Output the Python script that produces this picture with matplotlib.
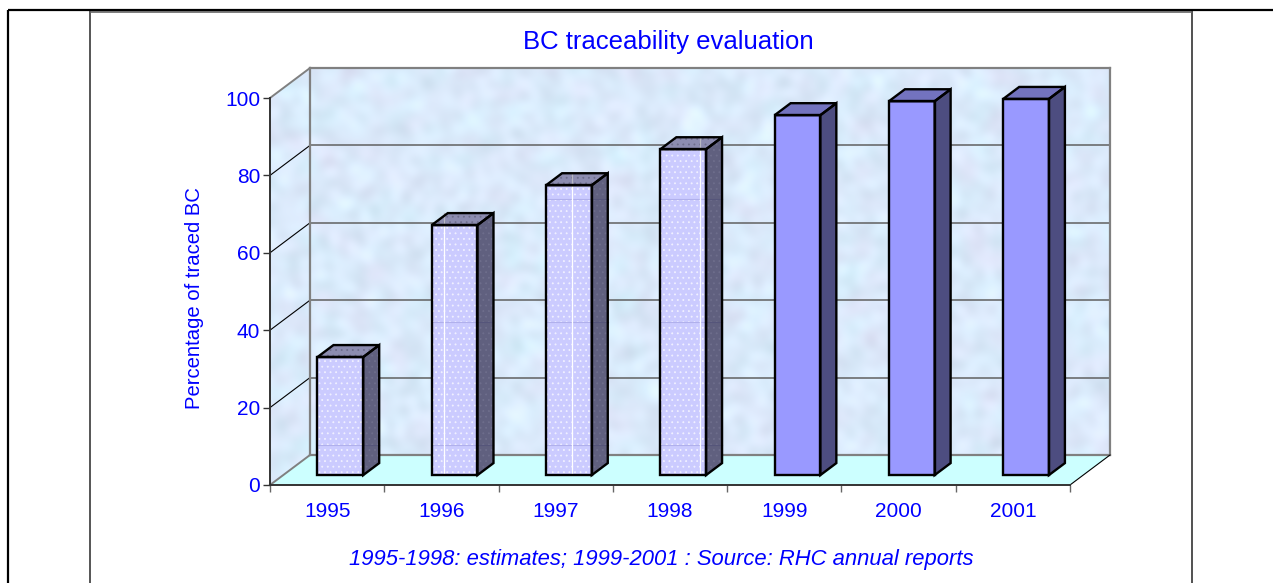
import numpy as np
import matplotlib
matplotlib.use("Agg")
from matplotlib import pyplot as plt
from matplotlib.patches import Polygon
from matplotlib.lines import Line2D

years = ['1995', '1996', '1997', '1998', '1999', '2000', '2001']
traced = [30.5, 64.6, 74.9, 84.2, 93, 96.6, 97.2]
estimated = [True, True, True, True, False, False, False]
y_ticks = [0, 20, 40, 60, 80, 100]
# white streak inside the estimated bars, fraction of bar width
streaks = [None, 0.27, 0.57, 0.86, None, None, None]
# faint bands that show through the estimated bars
bands = [7.75, 39.5, 71.3]

W, H = 1273, 583
BLUE = '#0000FF'
plt.rcParams['font.family'] = ['Liberation Sans', 'DejaVu Sans']
plt.rcParams['hatch.linewidth'] = 0.6

fig = plt.figure(figsize=(W / 100, H / 100), dpi=100)
ax = fig.add_axes([270 / W, 1 - 485 / H, 800 / W, 387 / H])
ax.set_xlim(0, 7)
ax.set_ylim(0, 100)

# one unit of depth = 40px right, 30px up
DX = 40 / 800 * 7
DY = 30 / 387 * 100

def proj(x, y, d):
    return (x + d * DX, y + d * DY)

def poly(pts, **kw):
    p = Polygon(pts, closed=True, clip_on=False, **kw)
    ax.add_patch(p)
    return p

def line(a, b, color, lw, z=3):
    ax.plot([a[0], b[0]], [a[1], b[1]], color=color, lw=lw, zorder=z,
            clip_on=False, solid_capstyle='projecting')

# mottled wall texture, sines in many directions so no stripes show
yy, xx = np.mgrid[0:420, 0:840]
tex = np.zeros(xx.shape)
tint = np.zeros(xx.shape)
for k in range(90):
    ang = k * 2.39996
    freq = 0.08 + 0.009 * (k % 37)
    tex += np.sin(freq * (xx * np.cos(ang) + yy * np.sin(ang)) + k * 1.7) / (1 + freq * 4)
    tint += np.sin(freq * 0.6 * (xx * np.sin(ang) - yy * np.cos(ang)) + k * 0.9)
tex = (tex - tex.min()) / (tex.max() - tex.min())
tint = (tint - tint.min()) / (tint.max() - tint.min())
c_cyan = np.array([0.84, 0.95, 1.00])
c_lav = np.array([0.88, 0.90, 0.98])
base = c_cyan + (c_lav - c_cyan) * tint[..., None]
rgb = np.clip(base + (tex[..., None] - 0.5) * 0.10, 0, 1)

wall = [proj(0, 0, 0), proj(0, 0, 1), proj(7, 0, 1), proj(7, 100, 1), proj(0, 100, 1), proj(0, 100, 0)]
wall_patch = Polygon(wall, closed=True, transform=ax.transData, fc='none', ec='none', clip_on=False)
ax.add_patch(wall_patch)
im = ax.imshow(rgb, extent=(0, 7 + DX, 0, 100 + DY), aspect='auto', zorder=0,
               interpolation='bilinear')
im.set_clip_box(fig.bbox)
im.set_clip_path(wall_patch)
ax.set_xlim(0, 7)
ax.set_ylim(0, 100)

# floor
poly([proj(0, 0, 0), proj(7, 0, 0), proj(7, 0, 1), proj(0, 0, 1)], fc='#CCFFFF', ec='none', zorder=1)

# wall outlines
GREY = '#808080'
line(proj(0, 100, 1), proj(7, 100, 1), GREY, 1.6)
line(proj(7, 100, 1), proj(7, 0, 1), GREY, 1.6)
line(proj(0, 100, 1), proj(0, 0, 1), GREY, 1.6)
line(proj(0, 0, 1), proj(7, 0, 1), GREY, 1.6)
line(proj(0, 100, 0), proj(0, 100, 1), GREY, 1.4)
line(proj(0, 0, 0), proj(0, 0, 1), GREY, 1.4)
line(proj(7, 0, 0), proj(7, 0, 1), '#000000', 0.8)

# gridlines
for v in y_ticks[1:-1]:
    line(proj(0, v, 1), proj(7, v, 1), '#606060', 1.1, z=2)
    line(proj(0, v, 0), proj(0, v, 1), '#000000', 0.8, z=2)

# bars
BAR_L, BAR_W = 0.3, 0.4
D0, D1 = 0.33, 0.73
for i, val in enumerate(traced):
    x0 = i + BAR_L
    x1 = x0 + BAR_W
    if estimated[i]:
        front, side, top, dots, sdots = '#CBCBFF', '#60607F', '#8C8CB0', '#F0F0FF', '#6E6E8C'
        hatch = '...'
    else:
        front, side, top, dots, sdots = '#9999FF', '#4D4D80', '#7373BF', None, None
        hatch = None
    f = [proj(x0, 0, D0), proj(x1, 0, D0), proj(x1, val, D0), proj(x0, val, D0)]
    s = [proj(x1, 0, D0), proj(x1, 0, D1), proj(x1, val, D1), proj(x1, val, D0)]
    tp = [proj(x0, val, D0), proj(x1, val, D0), proj(x1, val, D1), proj(x0, val, D1)]
    for pts, fc, hc in ((f, front, dots), (s, side, sdots), (tp, top, sdots)):
        if hatch:
            poly(pts, fc=fc, ec=hc, hatch=hatch, lw=0, zorder=4)
        else:
            poly(pts, fc=fc, ec='none', zorder=4)
    if estimated[i]:
        for v in bands:
            if v < val:
                line(proj(x0, v, D0), proj(x1, v, D0), '#B0B0EC', 0.8, z=5)
                line(proj(x1, v, D0), proj(x1 + (D1 - D0) * DX, v, D0), '#55557A', 0.8, z=5)
    if streaks[i] is not None:
        sx = x0 + streaks[i] * BAR_W
        line(proj(sx, 0, D0), proj(sx, val, D0), '#FFFFFF', 0.9, z=5)
        line(proj(sx, val, D0), proj(sx, val + (D1 - D0) * DY, D0), '#B8B8C4', 0.9, z=5)
    for pts in (f, s, tp):
        poly(pts, fc='none', ec='#000000', lw=1.7, joinstyle='miter', zorder=6)

# axes
for name in ('top', 'right'):
    ax.spines[name].set_visible(False)
for name in ('left', 'bottom'):
    ax.spines[name].set_color('#333333')
    ax.spines[name].set_linewidth(1.4)
    ax.spines[name].set_zorder(7)
ax.set_yticks(y_ticks)
ax.set_yticklabels([str(v) for v in y_ticks], fontsize=15, color=BLUE)
ax.set_xticks(range(8))
ax.set_xticklabels([''] * 8)
ax.set_xticks(np.arange(len(years)) + 0.5, minor=True)
ax.set_xticklabels(years, minor=True, fontsize=15, color=BLUE)
ax.tick_params(axis='x', which='major', length=5, width=1, color='#666666')
ax.tick_params(axis='x', which='minor', length=0, pad=12)
ax.tick_params(axis='y', length=5, width=1, color='#333333', pad=2)
ax.set_ylabel('Percentage of traced BC', fontsize=14.6, color=BLUE)
ax.yaxis.set_label_coords(-0.0825, 0.483)

fig.text(668 / W, 1 - 42 / H, 'BC traceability evaluation', color=BLUE, fontsize=18.5,
         ha='center', va='center')
fig.text(661 / W, 1 - 560 / H, '1995-1998: estimates; 1999-2001 : Source: RHC annual reports',
         color=BLUE, fontsize=15.8, style='italic', ha='center', va='center')

# page table lines
def frame(x0, y0, x1, y1, color, lw):
    fig.add_artist(Line2D([x0 / W, x1 / W], [1 - y0 / H, 1 - y1 / H], color=color, lw=lw,
                          solid_capstyle='butt'))

frame(90, 11, 90, H, '#555555', 1.4)
frame(1192, 11, 1192, H, '#333333', 1.2)
frame(90, 11.5, 1192, 11.5, '#666666', 1.2)
frame(8, 10, W, 10, '#000000', 1.6)
frame(8, 10, 8, H, '#000000', 1.6)

fig.savefig('out.png', dpi=100)
